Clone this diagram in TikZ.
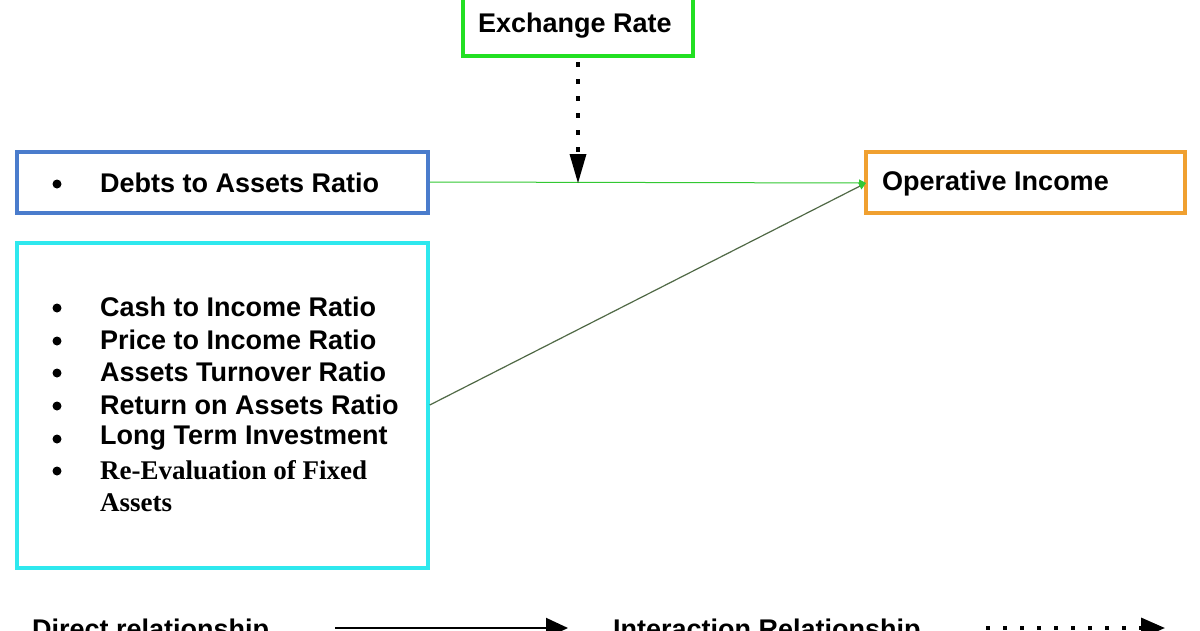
\documentclass[tikz,border=0pt]{standalone}
\usepackage{fontspec}
\setmainfont{Liberation Sans}
\newfontfamily\tnr{Liberation Serif}
\usetikzlibrary{arrows.meta}
\definecolor{exgreen}{RGB}{34,224,34}
\definecolor{boxblue}{RGB}{74,124,204}
\definecolor{boxcyan}{RGB}{46,232,238}
\definecolor{boxorange}{RGB}{240,160,48}
\definecolor{lgreen}{RGB}{50,200,50}
\definecolor{olive}{RGB}{80,105,70}
\tikzset{
  framebox/.style={draw, line width=3.5pt, rectangle, inner sep=0pt},
  lbl/.style={anchor=west, inner sep=0pt, font=\fontsize{27}{32}\selectfont\bfseries},
  bul/.style={circle, fill=black, inner sep=0pt, minimum size=9pt},
  relline/.style={line width=1pt, lgreen, -{Triangle[width=7pt,length=7pt]}},
}
\begin{document}
\begin{tikzpicture}[x=1pt,y=-1pt]
\useasboundingbox (0,0) rectangle (1200,630);
\fill[white] (0,0) rectangle (1200,630);
% boxes
\node[framebox, draw=exgreen, minimum width=230pt, minimum height=76pt] (ex) at (578,18) {};
\node[framebox, draw=boxblue, minimum width=411pt, minimum height=61pt] (debt) at (222.5,182.5) {};
\node[framebox, draw=boxcyan, minimum width=411pt, minimum height=325pt] (cyan) at (222.5,405.5) {};
\node[framebox, draw=boxorange, minimum width=319pt, minimum height=61pt] (op) at (1025.5,182.5) {};
% texts
\node[lbl] (ext) at (478,26) {Exchange Rate};
\node[lbl] (opt) at (882,184) {Operative Income};
\node[bul] (b0) at (57,184) {};
\node[lbl] (t0) at (100,183) {Debts to Assets Ratio};
\node[bul] (b1) at (57,308) {};
\node[lbl] (t1) at (100,307) {Cash to Income Ratio};
\node[bul] (b2) at (57,341) {};
\node[lbl] (t2) at (100,340) {Price to Income Ratio};
\node[bul] (b3) at (57,373) {};
\node[lbl] (t3) at (100,372) {Assets Turnover Ratio};
\node[bul] (b4) at (57,406) {};
\node[lbl] (t4) at (100,405) {Return on Assets Ratio};
\node[bul] (b5) at (57,439) {};
\node[lbl] (t5) at (100,438) {Long Term Investment};
\node[bul] (b6) at (57,471) {};
\node[lbl, font=\fontsize{27}{32}\selectfont\bfseries\tnr] (t6) at (100,470) {Re-Evaluation of Fixed};
\node[lbl, font=\fontsize{27}{32}\selectfont\bfseries\tnr] (t7) at (100,503) {Assets};
% connectors
\coordinate (opin) at (866,183);
\draw[relline] (debt.east |- 0,182) -- (opin);
\draw[line width=1.2pt, olive, -{Triangle[width=7pt,length=7pt,color=lgreen]}] (cyan.east |- 0,405) -- (opin);
\coordinate (vtop) at (578,62);
\coordinate (vend) at (578,183);
\draw[line width=4.5pt, dash pattern=on 4.5pt off 12.5pt, shorten >=28pt] (vtop) -- (vend);
\fill (569.5,154) -- (586.5,154) -- (vend) -- cycle;
% legend
\node[lbl] (leg1) at (32,632) {Direct relationship};
\node[lbl] (leg2) at (613,632) {Interaction Relationship};
\coordinate (l1s) at (335,628);
\coordinate (l1e) at (568,628);
\draw[line width=2pt, -{Triangle[width=20pt,length=22pt]}] (l1s) -- (l1e);
\coordinate (l2s) at (986,628);
\coordinate (l2e) at (1165,628);
\draw[line width=3.5pt, dash pattern=on 3.5pt off 13.5pt, -{Triangle[width=20pt,length=24pt]}] (l2s) -- (l2e);
\end{tikzpicture}
\end{document}
